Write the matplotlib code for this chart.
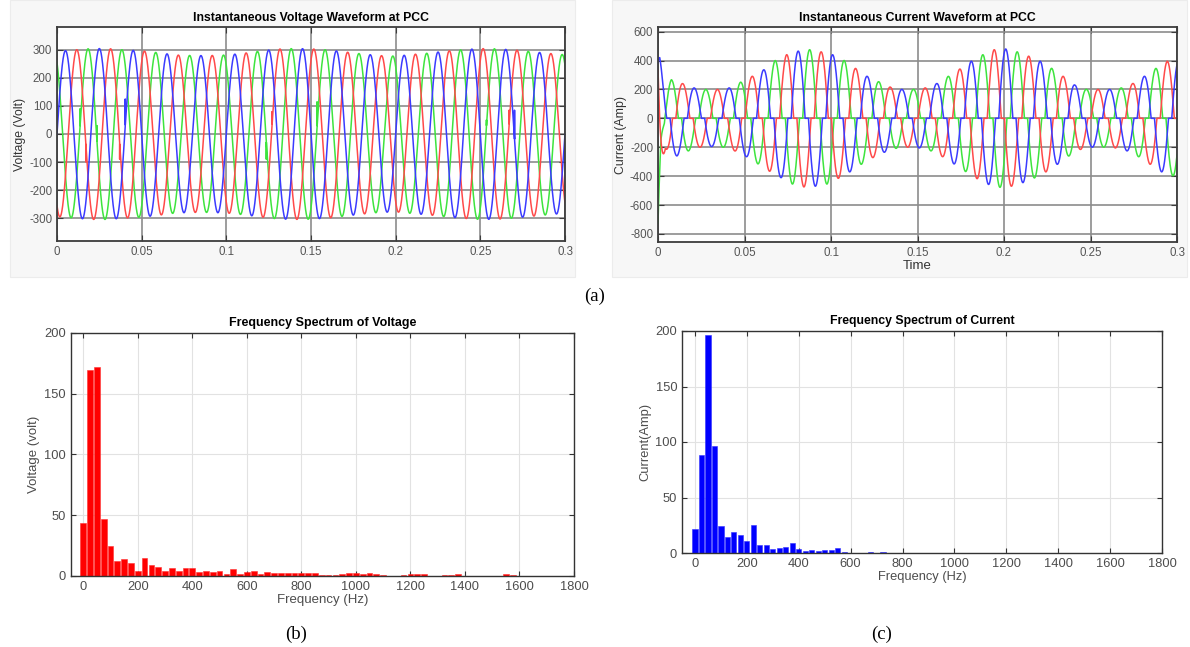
#=======================================================================
# PCC voltage / current waveforms and their frequency spectra
#=======================================================================

import matplotlib
matplotlib.use("Agg")
import matplotlib.pyplot as plt
from matplotlib.patches import Rectangle
import numpy as np

plt.rcParams['font.family'] = ['Liberation Sans', 'DejaVu Sans']
plt.rcParams['axes.unicode_minus'] = False

#=======================================================================
# Data
#=======================================================================

lineFreq = 50.0          # supply frequency (Hz)
tEnd = 0.3               # time span of the scope (s)

# voltage peak (V) read every 10 ms, 0 ... 0.3 s
vEnvTime = [0.00, 0.01, 0.02, 0.03, 0.04, 0.05, 0.06, 0.07, 0.08, 0.09, 0.10,
            0.11, 0.12, 0.13, 0.14, 0.15, 0.16, 0.17, 0.18, 0.19, 0.20,
            0.21, 0.22, 0.23, 0.24, 0.25, 0.26, 0.27, 0.28, 0.29, 0.30]
vEnvPeak = [295, 300, 305, 305, 300, 297, 290, 282, 280, 280, 282,
            288, 296, 303, 305, 304, 300, 293, 286, 280, 278,
            284, 289, 296, 301, 305, 304, 300, 294, 288, 283]

# commutation notches on the voltage: time (s), phase, tip value (V)
notchTime  = [0.0136, 0.0170, 0.0236, 0.0370, 0.0403, 0.1236, 0.1270,
              0.1370, 0.1536, 0.2536, 0.2670, 0.2702]
notchPhase = ['g', 'r', 'g', 'r', 'b', 'g', 'r', 'r', 'g', 'g', 'r', 'b']
notchValue = [90, -100, 30, -90, 125, -90, 80, -30, 115, 50, 85, 85]

# current lobe peaks (A): time of each lobe peak and its magnitude
iEnvTime = [0.0010, 0.0043, 0.0077, 0.0110, 0.0143, 0.0177, 0.0210, 0.0243,
            0.0277, 0.0310, 0.0343, 0.0377, 0.0410, 0.0443, 0.0477, 0.0510,
            0.0543, 0.0577, 0.0610, 0.0643, 0.0677, 0.0710, 0.0743, 0.0777,
            0.0810, 0.0843, 0.0877, 0.0910, 0.0943, 0.0977, 0.1010, 0.1043,
            0.1077, 0.1110, 0.1143, 0.1210, 0.1345, 0.1410, 0.1477, 0.1543,
            0.1610, 0.1677, 0.1743, 0.1810, 0.1877, 0.1943, 0.2010, 0.2077,
            0.2143, 0.2210, 0.2277, 0.2343, 0.2410, 0.2477, 0.2543, 0.2610,
            0.2677, 0.2743, 0.2810, 0.2877, 0.2943, 0.3010]
iEnvPeak = [420, 210, 270, 260, 240, 225, 210, 200,
            200, 195, 200, 200, 210, 225, 250, 265,
            290, 315, 335, 365, 400, 410, 440, 455,
            465, 475, 475, 470, 460, 455, 440, 415,
            400, 370, 345, 290, 215, 200, 200, 210,
            240, 290, 340, 395, 440, 475, 480, 460,
            430, 395, 345, 290, 230, 200, 200, 200,
            210, 240, 290, 345, 395, 400]
iFirstPeak = 0.001       # time of first blue current peak (s)
iDeadBand = 0.3          # flat part of the rectifier current
iStartGreen = -460       # start-up transient offsets (A)
iStartRed = 334

# frequency spectra
vSpecFreq = [0, 25, 50, 75, 100, 125, 150, 175, 200, 225, 250, 275, 300, 325,
             350, 375, 400, 425, 450, 475, 500, 525, 550, 575, 600, 625, 650,
             675, 700, 725, 750, 775, 800, 825, 850, 875, 900, 925, 950, 975,
             1000, 1025, 1050, 1075, 1100, 1175, 1200, 1225, 1250, 1325, 1350,
             1375, 1550, 1575]
vSpecMag = [43.4, 169.5, 172, 47, 24.5, 12.4, 14.3, 10.4, 4.4, 15, 8.8, 7.1,
            4.1, 6.6, 4.4, 6.3, 6.3, 3.6, 4.4, 3.6, 4.4, 1.9, 5.5, 1.6, 3, 4.4,
            1.9, 3.6, 2.7, 2.7, 2.7, 2.7, 2.5, 2.5, 2.2, 1.2, 1, 1, 1.5, 2.2,
            2.5, 2, 2.5, 1.5, 0.8, 1, 1.5, 1.5, 1.5, 1, 1, 1.5, 2, 1]

iSpecFreq = [0, 25, 50, 75, 100, 125, 150, 175, 200, 225, 250, 275, 300, 325,
             350, 375, 400, 425, 450, 475, 500, 525, 550, 575, 675, 725]
iSpecMag = [21.5, 88, 196, 96, 24, 14, 19, 16, 11, 25, 7, 7, 3.6, 4.5,
            5.4, 9, 3.9, 2, 3, 2, 3, 3, 4.5, 1, 1.2, 0.8]

#=======================================================================
# Build the waveforms
#=======================================================================

t = np.linspace(0, tEnd, 30001)
w = 2*np.pi*lineFreq

vEnv = np.interp(t, vEnvTime, vEnvPeak)
volt = {'b': vEnv*np.sin(w*t),
        'r': vEnv*np.sin(w*t - 2*np.pi/3),
        'g': vEnv*np.sin(w*t + 2*np.pi/3)}
for ts, ph, vp in zip(notchTime, notchPhase, notchValue):
    k = np.argmin(np.abs(t - ts))
    volt[ph][k] = vp

def lobes(c):
    #sine with a flat dead band around each zero crossing
    return np.sign(c)*np.clip(np.abs(c) - iDeadBand, 0, None)/(1 - iDeadBand)

iEnv = np.interp(t, iEnvTime, iEnvPeak)
th = w*(t - iFirstPeak)
curr = {'b': iEnv*lobes(np.cos(th)),
        'g': iEnv*lobes(np.cos(th - 2*np.pi/3)) + iStartGreen*np.exp(-t/0.0015),
        'r': iEnv*lobes(np.cos(th - 4*np.pi/3)) + iStartRed*np.exp(-t/0.0009)}

colors = {'r': '#ff4a4a', 'g': '#3ee43e', 'b': '#3b3bff'}

#=======================================================================
# Plotting
#=======================================================================

fig = plt.figure(figsize=(11.9, 6.47), dpi=100)

#faint scope backgrounds of the two upper screenshots
for x0, wd in [(10, 565), (612, 575)]:
    fig.patches.append(Rectangle((x0/1190, 1-277/647), wd/1190, 277/647,
                                 transform=fig.transFigure, facecolor='#f7f7f7',
                                 edgecolor='#ececec', lw=0.8, zorder=-5))

tickCol = '#555555'

def scope_style(ax):
    ax.set_facecolor('white')
    ax.grid(True, color='#8c8c8c', lw=1.2)
    ax.set_axisbelow(True)
    for s in ax.spines.values():
        s.set_color('#3c3c3c')
        s.set_linewidth(1.3)
    ax.tick_params(direction='in', top=True, right=True, length=4,
                   labelsize=8.3, colors='#3c3c3c', labelcolor=tickCol)
    ax.set_xlim(0, tEnd)
    ax.set_xticks([0, 0.05, 0.1, 0.15, 0.2, 0.25, 0.3])
    ax.set_xticklabels(['0', '0.05', '0.1', '0.15', '0.2', '0.25', '0.3'])

def spec_style(ax):
    ax.grid(True, color='#e2e2e2', lw=0.8)
    ax.set_axisbelow(True)
    for s in ax.spines.values():
        s.set_color('#333333')
        s.set_linewidth(1.0)
    ax.tick_params(direction='in', top=True, right=True, length=3.5,
                   labelsize=9.3, colors='#333333', labelcolor='#4d4d4d')
    ax.set_xticks(np.arange(0, 1801, 200))
    ax.set_yticks([0, 50, 100, 150, 200])
    ax.set_ylim(0, 200)

#voltage waveform
ax1 = fig.add_axes([57/1190, 1-241/647, 508/1190, 214/647])
for ph in ['g', 'r', 'b']:
    ax1.plot(t, volt[ph], color=colors[ph], lw=1.1)
scope_style(ax1)
ax1.set_ylim(-382, 382)
ax1.set_yticks(np.arange(-300, 301, 100))
ax1.set_title('Instantaneous Voltage Waveform at PCC', fontsize=8.8,
              fontweight='bold', pad=4)
ax1.set_ylabel('Voltage (Volt)', fontsize=8.8, color='#333333', labelpad=2)

#current waveform
ax2 = fig.add_axes([658/1190, 1-242/647, 519/1190, 215/647])
for ph in ['g', 'r', 'b']:
    ax2.plot(t, curr[ph], color=colors[ph], lw=1.1)
scope_style(ax2)
ax2.set_ylim(-856, 632)
ax2.set_yticks(np.arange(-800, 601, 200))
ax2.set_title('Instantaneous Current Waveform at PCC', fontsize=8.8,
              fontweight='bold', pad=4)
ax2.set_ylabel('Current (Amp)', fontsize=8.8, color='#333333', labelpad=2)
ax2.set_xlabel('Time', fontsize=9.5, color='#333333', labelpad=1)

#voltage spectrum
ax3 = fig.add_axes([70.7/1190, 1-576/647, 503.3/1190, 243.3/647])
ax3.bar(vSpecFreq, vSpecMag, width=21, color='#ff0000', edgecolor='#ff3030', lw=0.4)
spec_style(ax3)
ax3.set_xlim(-46, 1800)
ax3.set_title('Frequency Spectrum of Voltage', fontsize=9, fontweight='bold', pad=5)
ax3.set_ylabel('Voltage (volt)', fontsize=9.5, color='#4d4d4d', labelpad=3)
ax3.set_xlabel('Frequency (Hz)', fontsize=9.5, color='#4d4d4d', labelpad=1)

#current spectrum
ax4 = fig.add_axes([682/1190, 1-553/647, 480/1190, 222/647])
ax4.bar(iSpecFreq, iSpecMag, width=20, color='#0000ff', edgecolor='#3030ff', lw=0.4)
spec_style(ax4)
ax4.set_xlim(-50, 1800)
ax4.set_title('Frequency Spectrum of Current', fontsize=8.8, fontweight='bold', pad=5)
ax4.set_ylabel('Current(Amp)', fontsize=9.3, color='#4d4d4d', labelpad=3)
ax4.set_xlabel('Frequency (Hz)', fontsize=9.3, color='#4d4d4d', labelpad=1)

#sub-figure captions
capFont = dict(family=['Liberation Serif', 'DejaVu Serif'], fontsize=13.5,
               ha='center', va='center')
fig.text(595/1190, 1-296/647, '(a)', **capFont)
fig.text(296/1190, 1-634/647, '(b)', **capFont)
fig.text(882/1190, 1-634/647, '(c)', **capFont)

fig.savefig('out.png', dpi=100, facecolor='white')
